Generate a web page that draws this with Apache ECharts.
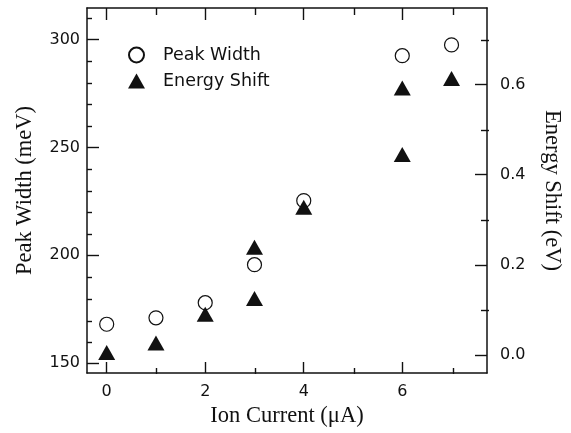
<!DOCTYPE html>
<html>
<head>
<meta charset="utf-8">
<script src="https://cdn.jsdelivr.net/npm/echarts@6/dist/echarts.min.js"></script>
<style>
html, body { margin: 0; padding: 0; background: #fff; }
#main { width: 571px; height: 433px; }
</style>
</head>
<body>
<div id="main"></div>
<script>
// values
var widthX = [0, 1, 2, 3, 4, 6, 7];
var widthVals = [168, 171, 178, 195.6, 225.3, 292.5, 297.5];
var shiftX = [0, 1, 2, 3, 3, 4, 6, 6, 7];
var shiftVals = [0.005, 0.026, 0.09, 0.239, 0.125, 0.328, 0.593, 0.445, 0.614];

// tick positions
var xMajor = [0, 2, 4, 6];
var xMinor = [1, 3, 5, 7];
var leftMajor = [150, 200, 250, 300];
var leftMinor = [160, 170, 180, 190, 210, 220, 230, 240, 260, 270, 280, 290, 310];
var rightMajor = [0, 0.2, 0.4, 0.6];
var rightMinor = [0.1, 0.3, 0.5, 0.7];

var X_RANGE = [-0.4, 7.72];
var LEFT_RANGE = [145.4, 314.6];
var RIGHT_RANGE = [-0.0405, 0.7705];

var INK = '#111';
var SANS = 'DejaVu Sans';
var SERIF = 'Liberation Serif';

function pairs(xs, ys) {
    var out = [];
    for (var i = 0; i < xs.length; i++) {
        out.push([xs[i], ys[i]]);
    }
    return out;
}

// one axis: ticks placed by customValues, labels only when asked
function makeAxis(position, gridIndex, range, ticks, tickLen, labelOpts) {
    var ax = {
        type: 'value',
        gridIndex: gridIndex,
        position: position,
        min: range[0],
        max: range[1],
        splitLine: { show: false },
        axisLine: { show: gridIndex === 0, onZero: false, lineStyle: { color: INK, width: 1.5 } },
        axisTick: {
            show: true,
            inside: true,
            length: tickLen,
            customValues: ticks,
            lineStyle: { color: INK, width: 1.4 }
        },
        axisLabel: { show: false }
    };
    if (labelOpts) {
        ax.axisLabel = {
            show: true,
            customValues: ticks,
            margin: labelOpts.margin,
            color: INK,
            fontFamily: SANS,
            fontSize: 16,
            formatter: labelOpts.formatter
        };
    }
    return ax;
}

var myChart = echarts.init(document.getElementById('main'));

var gridBox = { left: 87, top: 8, width: 402, height: 366 };
var titleStyle = { fontFamily: SERIF, fontSize: 22.5, color: INK };

var option = {
    animation: false,
    backgroundColor: '#fff',
    grid: [
        Object.assign({}, gridBox),
        Object.assign({}, gridBox)
    ],
    legend: {
        data: ['Peak Width', 'Energy Shift'],
        orient: 'vertical',
        left: 123,
        top: 41,
        itemWidth: 17,
        itemHeight: 15,
        itemGap: 8,
        textStyle: { fontFamily: SANS, fontSize: 17.5, color: INK, padding: [0, 0, 0, 13] }
    },
    xAxis: [
        Object.assign(makeAxis('bottom', 0, X_RANGE, xMajor, 11, { margin: 11, formatter: function (v) { return String(v); } }), {
            name: 'Ion Current (\u03bcA)',
            nameLocation: 'middle',
            nameGap: 32,
            nameTextStyle: titleStyle
        }),
        makeAxis('top', 0, X_RANGE, xMajor, 12),
        makeAxis('bottom', 1, X_RANGE, xMinor, 6),
        makeAxis('top', 1, X_RANGE, xMinor, 7)
    ],
    yAxis: [
        Object.assign(makeAxis('left', 0, LEFT_RANGE, leftMajor, 12, { margin: 7, formatter: function (v) { return String(v); } }), {
            name: 'Peak Width (meV)',
            nameLocation: 'middle',
            nameRotate: 90,
            nameGap: 50,
            nameTextStyle: titleStyle
        }),
        Object.assign(makeAxis('right', 0, RIGHT_RANGE, rightMajor, 12, { margin: 13, formatter: function (v) { return v.toFixed(1); } }), {
            name: 'Energy Shift (eV)',
            nameLocation: 'middle',
            nameRotate: -90,
            nameGap: 53,
            nameTextStyle: titleStyle
        }),
        makeAxis('left', 1, LEFT_RANGE, leftMinor, 5),
        makeAxis('right', 1, RIGHT_RANGE, rightMinor, 8)
    ],
    series: [
        {
            name: 'Peak Width',
            type: 'scatter',
            xAxisIndex: 0,
            yAxisIndex: 0,
            symbol: 'circle',
            symbolSize: 14,
            itemStyle: { color: '#fff', borderColor: INK, borderWidth: 1.2, opacity: 1 },
            data: pairs(widthX, widthVals)
        },
        {
            name: 'Energy Shift',
            type: 'scatter',
            xAxisIndex: 0,
            yAxisIndex: 1,
            symbol: 'triangle',
            symbolSize: [17, 15],
            itemStyle: { color: INK, opacity: 1 },
            data: pairs(shiftX, shiftVals)
        }
    ]
};

myChart.setOption(option);
</script>
</body>
</html>
